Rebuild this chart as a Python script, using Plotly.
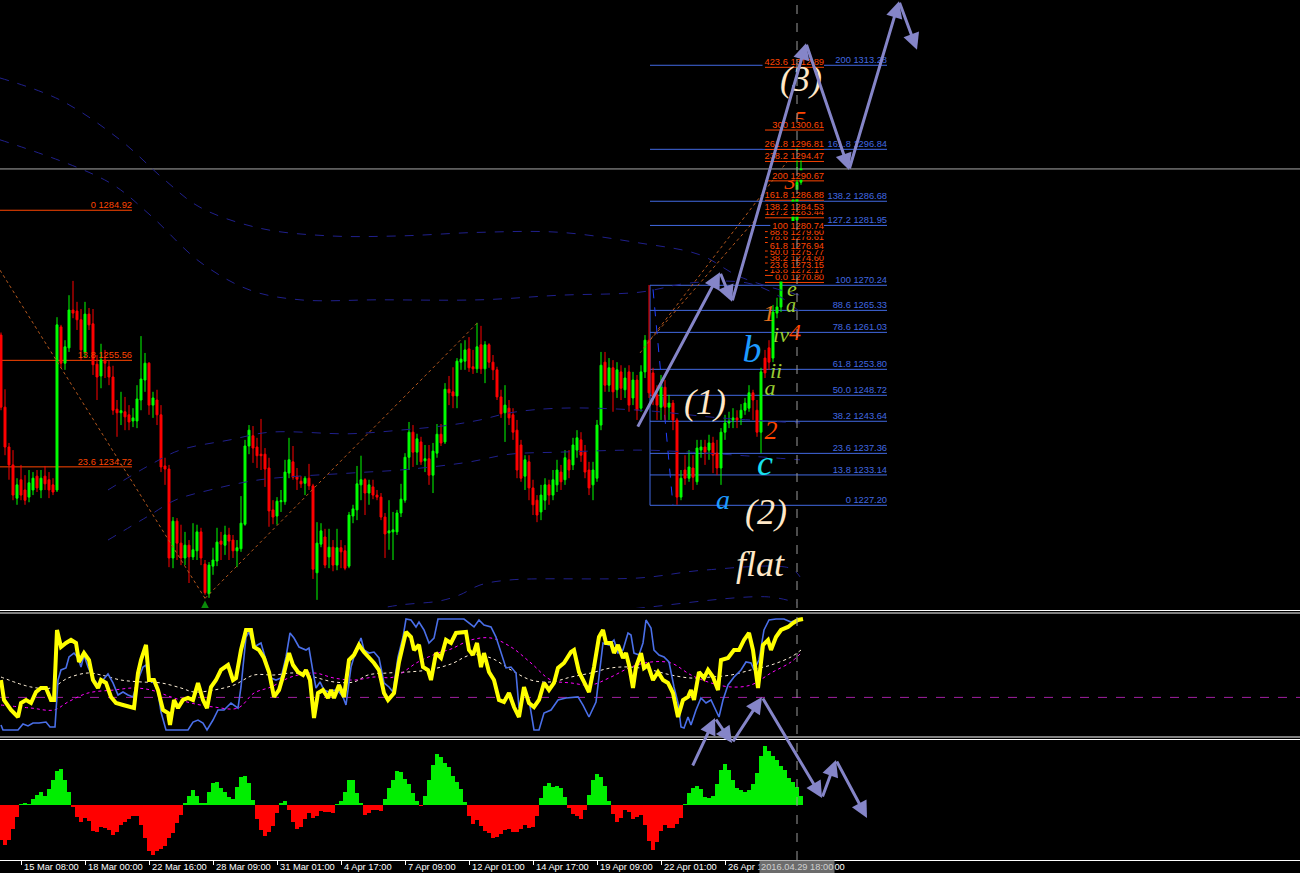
import plotly.graph_objects as go

# ---------------- price data (H4 candles, bar index 0..200) ----------------
opens = [1260.5,1246.4,1238.6,1235.1,1228.6,1232.2,1230.2,1228.8,1230.2,1232.9,
1230.2,1232.9,1232.2,1231.2,1230.2,1262.1,1255.0,1258.0,1265.4,1265.2,
1263.5,1257.2,1264.6,1262.7,1254.8,1252.5,1255.6,1254.3,1252.3,1246.0,
1245.3,1245.5,1244.9,1243.7,1243.7,1247.8,1251.7,1255.0,1246.8,1247.8,
1244.9,1234.9,1234.3,1216.9,1224.1,1219.8,1216.9,1219.4,1217.1,1218.3,
1222.0,1215.7,1209.9,1215.3,1216.3,1220.2,1219.4,1221.4,1220.4,1218.3,
1218.7,1223.5,1238.8,1240.8,1238.6,1237.2,1237.2,1234.5,1226.3,1225.1,
1227.9,1227.9,1233.5,1235.7,1232.9,1231.9,1231.5,1232.5,1231.0,1214.0,
1219.6,1221.0,1217.1,1219.0,1215.5,1218.9,1218.3,1215.3,1225.1,1226.3,
1231.2,1232.2,1229.6,1230.8,1229.2,1228.8,1224.9,1221.8,1222.0,1222.0,
1225.7,1228.2,1236.6,1241.5,1237.6,1239.6,1235.9,1236.3,1233.1,1237.4,
1241.1,1239.6,1249.9,1249.4,1248.6,1255.2,1255.4,1257.8,1254.3,1253.9,
1258.6,1253.9,1258.6,1255.2,1253.7,1248.4,1245.3,1246.2,1244.9,1241.9,
1239.0,1232.9,1235.7,1230.6,1228.2,1225.9,1228.2,1231.2,1229.2,1231.2,
1233.7,1232.2,1236.1,1235.1,1238.0,1240.0,1237.6,1234.1,1231.2,1232.5,
1242.9,1255.2,1250.7,1254.1,1249.8,1253.3,1249.8,1253.3,1248.2,1251.7,
1246.2,1253.3,1259.5,1253.1,1248.8,1246.4,1250.3,1246.4,1247.2,1243.9,
1228.8,1234.1,1232.5,1234.5,1231.8,1238.0,1238.6,1238.0,1239.4,1237.4,
1234.5,1241.5,1243.3,1243.9,1244.3,1244.3,1245.8,1246.2,1249.2,1245.8,
1241.5,1256.0,1258.0,1256.0,1264.8,1266.0,1273.8,1276.2,1275.8,1283.0,
1290.4]
highs = [1261.0,1249.9,1239.4,1238.0,1232.5,1235.1,1233.1,1234.1,1233.7,1234.1,
1234.1,1234.9,1233.7,1232.5,1264.0,1262.5,1259.5,1268.3,1271.1,1267.0,
1265.6,1267.0,1265.8,1265.6,1256.6,1258.8,1257.6,1255.6,1254.5,1247.8,
1249.4,1248.4,1246.8,1246.2,1250.7,1260.3,1257.0,1255.2,1249.4,1249.8,
1246.8,1236.5,1235.1,1224.9,1224.7,1223.4,1222.0,1220.4,1223.7,1223.4,
1222.8,1216.5,1216.1,1218.9,1222.8,1222.0,1223.2,1222.8,1221.4,1220.4,
1229.0,1240.0,1242.9,1242.7,1240.4,1244.1,1238.4,1236.5,1228.2,1228.8,
1230.2,1236.1,1240.4,1238.8,1234.5,1232.9,1232.9,1235.3,1231.4,1223.9,
1223.7,1222.6,1222.6,1220.4,1222.6,1220.4,1219.4,1225.9,1227.3,1234.9,
1236.9,1232.5,1232.2,1232.2,1230.2,1229.6,1225.7,1228.2,1225.9,1226.3,
1231.4,1237.4,1243.5,1242.9,1241.2,1240.6,1239.0,1239.0,1239.4,1243.1,
1243.1,1251.1,1252.5,1254.2,1256.0,1258.9,1259.5,1260.1,1257.6,1262.9,
1262.3,1259.3,1258.9,1256.6,1254.3,1249.8,1250.7,1247.8,1246.2,1243.9,
1240.0,1237.0,1237.0,1232.2,1229.2,1231.2,1232.5,1232.2,1234.1,1236.1,
1235.1,1238.0,1238.0,1240.4,1241.9,1241.5,1239.0,1235.7,1235.7,1243.9,
1257.2,1257.2,1256.0,1255.6,1255.2,1254.6,1254.1,1254.6,1253.3,1252.7,
1254.6,1260.5,1270.3,1254.1,1250.7,1252.7,1251.7,1248.8,1247.8,1244.3,
1234.1,1237.0,1238.0,1237.0,1240.0,1240.0,1240.0,1241.0,1240.6,1240.0,
1242.3,1244.9,1245.5,1246.2,1245.8,1247.0,1248.2,1250.7,1249.8,1247.8,
1254.1,1257.6,1259.5,1266.4,1267.8,1275.6,1276.2,1277.1,1287.9,1297.1,
1295.1]
lows = [1245.8,1237.0,1232.2,1228.2,1227.3,1228.2,1227.3,1227.8,1229.2,1229.8,
1228.6,1230.2,1228.6,1229.2,1229.8,1254.1,1253.7,1257.2,1263.8,1261.5,
1255.6,1256.0,1261.5,1252.7,1247.8,1250.1,1252.1,1250.7,1244.9,1240.6,
1242.9,1241.9,1241.9,1242.5,1242.3,1245.8,1249.4,1244.9,1244.3,1242.9,
1233.7,1231.2,1215.1,1214.9,1216.5,1215.5,1215.5,1212.0,1216.5,1216.5,
1215.5,1209.7,1209.1,1213.6,1215.3,1216.5,1217.5,1216.5,1216.9,1215.1,
1218.1,1223.2,1237.2,1235.5,1234.5,1234.1,1230.8,1223.0,1223.5,1223.4,
1225.9,1227.3,1232.5,1232.2,1230.2,1230.6,1229.2,1230.2,1212.8,1208.7,
1219.0,1214.9,1214.9,1214.3,1214.5,1214.9,1214.5,1214.9,1223.7,1224.3,
1228.2,1225.3,1227.3,1228.4,1228.2,1224.3,1216.9,1218.5,1216.5,1221.4,
1224.9,1227.7,1234.1,1234.7,1235.1,1235.1,1233.7,1231.2,1229.6,1236.5,
1238.8,1239.2,1246.8,1246.2,1246.2,1253.7,1253.7,1253.3,1252.9,1253.1,
1252.9,1251.1,1254.1,1251.7,1247.8,1244.3,1239.6,1242.9,1240.0,1232.5,
1231.8,1230.2,1228.2,1225.3,1223.9,1224.3,1226.3,1227.3,1228.2,1229.8,
1230.2,1231.2,1232.5,1234.1,1236.5,1235.7,1232.5,1229.2,1228.2,1231.8,
1241.9,1249.4,1249.4,1245.5,1248.2,1247.8,1248.2,1245.5,1246.8,1243.9,
1245.5,1252.1,1248.2,1246.8,1243.9,1243.9,1243.9,1243.9,1241.9,1227.3,
1228.2,1231.2,1231.8,1230.2,1231.2,1236.5,1235.1,1236.1,1233.5,1233.1,
1231.2,1240.0,1242.3,1242.3,1242.3,1242.9,1244.9,1245.5,1243.9,1240.6,
1237.4,1252.1,1253.7,1255.2,1263.8,1265.0,1272.3,1273.6,1274.8,1282.0,
1289.9]
closes = [1246.4,1238.6,1235.1,1229.2,1231.2,1229.2,1228.2,1231.6,1232.5,1230.6,
1232.5,1231.4,1230.2,1229.8,1262.5,1255.0,1258.2,1265.4,1264.8,1263.5,
1257.6,1264.6,1262.5,1254.7,1252.3,1255.6,1255.0,1252.3,1245.8,1245.3,
1245.7,1244.5,1243.5,1244.3,1248.0,1251.9,1255.0,1246.8,1248.2,1244.9,
1234.7,1234.3,1216.9,1224.1,1219.8,1216.9,1219.4,1217.1,1218.5,1222.0,
1216.9,1210.1,1215.5,1216.5,1220.0,1219.6,1221.4,1220.2,1218.3,1218.9,
1223.7,1238.8,1241.9,1238.4,1236.9,1236.9,1234.3,1226.1,1224.9,1228.0,
1228.1,1233.7,1236.1,1232.7,1232.3,1231.4,1232.5,1231.0,1214.7,1219.8,
1222.2,1215.5,1219.0,1215.5,1218.9,1218.1,1214.9,1225.3,1226.5,1231.4,
1232.2,1229.6,1231.2,1229.2,1228.8,1224.9,1221.6,1222.2,1222.4,1225.7,
1228.4,1236.6,1241.5,1237.6,1240.2,1235.7,1236.3,1233.1,1237.8,1241.1,
1239.4,1249.9,1249.2,1248.6,1255.4,1255.8,1257.6,1254.1,1253.9,1258.2,
1253.9,1258.6,1255.2,1253.7,1248.4,1245.1,1246.8,1244.3,1241.5,1234.1,
1232.5,1236.1,1230.6,1227.3,1225.3,1229.2,1231.2,1229.2,1232.2,1234.1,
1231.8,1236.5,1234.1,1239.0,1240.4,1237.0,1233.7,1230.6,1234.1,1242.9,
1254.6,1250.7,1254.1,1249.4,1253.7,1250.1,1252.1,1246.8,1251.7,1245.8,
1253.3,1259.5,1249.2,1248.4,1246.8,1250.3,1246.4,1247.2,1243.9,1228.8,
1232.5,1232.5,1234.7,1232.7,1238.4,1238.6,1237.6,1239.4,1237.0,1234.5,
1241.5,1243.3,1243.5,1244.3,1243.9,1245.8,1247.2,1249.2,1247.8,1241.5,
1253.3,1253.1,1255.2,1265.0,1266.0,1273.8,1274.8,1274.8,1286.9,1290.4,
1293.0]
bars = list(range(len(closes)))
bid_price = 1293.0
vline_bar = 199

# ---------------- moving-average envelope curves (bar, price) ----------------
env_t1_x = [-0.25,14.75,29.75,41,49.75,64.75,82.25,99.75,119.75,139.75,159.75,174.75,184.75,199.75]
env_t1_y = [1310.8,1306.5,1298.7,1290.8,1285.5,1281.4,1279.9,1279.9,1280.6,1280.6,1278.5,1276.2,1271.9,1268.3]
env_t2_x = [-0.25,26.75,37.25,49.75,62.25,74.75,94.75,119.75,139.75,159.75,172.25,186.5,194.75,199.75]
env_t2_y = [1298.7,1290.5,1284.0,1274.8,1269.3,1267.4,1267.4,1267.4,1268.3,1268.9,1270.7,1270.7,1268.0,1265.0]
env_a_x = [26.75,37.25,44.75,57.25,67.25,87.25,99.75,112.25,119.75,127.25,139.75,159.75,179.75,199.75]
env_a_y = [1230.2,1235.1,1238.0,1240.0,1241.5,1241.2,1241.9,1242.9,1243.9,1245.3,1246.2,1245.8,1244.3,1243.3]
env_b_x = [26.75,37.25,43.5,52.25,64.75,87.25,99.75,109.75,117.25,127.25,139.75,159.75,172.25,199.75]
env_b_y = [1220.4,1225.3,1228.2,1230.2,1232.2,1233.5,1234.1,1234.9,1235.7,1237.2,1237.6,1238.0,1237.6,1236.1]
env_c1_x = [92.25,99.75,109.75,114.75,119.75,127.25,159.75,175.5,197.25,199.75]
env_c1_y = [1206.7,1207.7,1208.5,1209.7,1211.6,1212.6,1213.0,1214.5,1214.9,1213.2]
env_c2_x = [149.75,159.75,191.5,199.0]
env_c2_y = [1206.3,1207.1,1209.3,1208.1]

# ---------------- dotted trend lines (bar, price) ----------------
trend_lines = [
    ((-0.25, 1273.2), (51, 1209.0)),
    ((51, 1209.0), (119.25, 1263.0)),
    ((159.75, 1257.0), (196.5, 1294.4)),
    ((162.25, 1259.5), (188.5, 1283.0)),
]

# ---------------- Fibonacci levels ----------------
fib_left_lv = ["0", "13.8", "23.6"]
fib_left_px = [1284.92, 1255.56, 1234.72]
fib_blue_lv = ["0", "13.8", "23.6", "38.2", "50.0", "61.8", "78.6", "88.6", "100", "127.2", "138.2", "161.8", "200"]
fib_blue_px = [1227.20, 1233.14, 1237.36, 1243.64, 1248.72, 1253.80, 1261.03, 1265.33, 1270.24, 1281.95, 1286.68, 1296.84, 1313.28]
fib_or_lv = ["0.0", "13.8", "23.6", "38.2", "50.0", "61.8", "78.6", "88.6", "100", "127.2", "138.2", "161.8", "200", "238.2", "261.8", "300", "423.6"]
fib_or_px = [1270.80, 1272.17, 1273.15, 1274.60, 1275.77, 1276.94, 1278.61, 1279.60, 1280.74, 1283.44, 1284.53, 1286.88, 1290.67, 1294.47, 1296.81, 1300.61, 1312.89]

# ---------------- Elliott wave labels (text, bar, price, size, color) ----------------
wave_labels_under = [   # drawn beneath the fib texts
    ("3", 197.25, 1290.2, 22, "#FF4500"),
    ("5", 199.75, 1302.4, 24, "#FF4500"),
]
wave_labels = [
    ("(3)", 200.0, 1310.0, 36, "#FFE8C8"),
    ("(1)", 176.0, 1246.8, 36, "#FFE8C8"),
    ("(2)", 191.25, 1225.3, 36, "#FFE8C8"),
    ("flat", 189.75, 1215.1, 36, "#FFE8C8"),
    ("b", 187.75, 1257.0, 38, "#1E9BFF"),
    ("c", 191.0, 1234.9, 36, "#18E0F0"),
    ("a", 180.5, 1227.9, 28, "#1E9BFF"),
    ("2", 192.5, 1241.4, 26, "#FF4500"),
    ("4", 198.5, 1260.7, 24, "#FF4500"),
    ("1", 192.0, 1264.4, 24, "#E8701E"),
    ("iv", 195.0, 1260.3, 22, "#9ACD32"),
    ("ii", 193.75, 1253.1, 22, "#9ACD32"),
    ("a", 192.25, 1249.9, 22, "#9ACD32"),
    ("a", 197.5, 1266.0, 20, "#9ACD32"),
    ("e", 197.75, 1269.3, 22, "#9ACD32"),
]

# ---------------- projection arrows (bar, price) ----------------
proj_main = [(159, 1242.3), (179.75, 1272.8), (182.75, 1267.0), (201.25, 1317.6),
             (212, 1292.8), (224.5, 1325.8), (229, 1316.3)]

# ---------------- oscillator panel ----------------
yel_x = [0,0.75,2.5,4.25,5,6.25,7.5,8.75,10,11.25,12.5,13.25,14,15,16.25,17.5,18.75,19.5,20.75,22,23,24.25,25,26.25,27.5,28.75,30.5,32,33.25,34.25,35,36.25,37,38.25,39.25,40.5,41.75,42.25,43.25,44.25,45.5,46.75,48,49.25,50.5,51.5,52.5,53.75,55,56.75,58,58.75,60,61.25,62.5,63.25,64.5,65.75,67,68.25,69.5,70.75,72,73,74.25,75.5,76.25,77.25,78.25,79.25,80.5,81.75,82.5,83.25,84.5,85.75,87,88.25,89.5,90.75,92,93.25,94.5,95.75,96.75,98.25,99.5,101.25,102.5,103.25,104.5,105.5,106.75,107.5,108.75,110,111.25,112.5,113.75,116.25,117,118,119,120,120.75,122,123.25,124.5,125.75,127,128.25,129.5,130.75,132,133.25,134.5,135.75,137,138.25,139.25,140.75,142.5,143.25,144.5,145.75,147,148.25,149.5,150.5,151.25,152.5,153.25,154.25,155.5,156.25,157,158,158.75,160,160.75,161.75,163,164.25,165.5,166.75,168,169.25,170.5,171.75,172.5,173.25,174.5,175.75,176.75,178,179.25,180,181.75,183.25,184.5,185.75,187,188,189.25,190.5,191.75,192.5,193.75,195,196.75,198,199.25,200.5]
yel_v = [45.5,27.7,18.8,12.5,25,27.7,25,34.8,38.4,38.4,27.7,27.7,90.2,75,78.6,81.3,78.6,61.6,69.6,63.4,45.5,38.4,45.5,42.9,30.4,25,23.2,21.4,20.5,51.8,63.4,76.8,45.5,45.5,36.6,18.8,16.1,5.4,27.7,20.5,27.7,29.5,27.7,42.9,27.7,20.5,39.3,45.5,54.5,58.9,45.5,47.3,72.3,90.2,90.2,75,72.3,65.2,52.7,30.4,36.6,51.8,69.6,58.9,52.7,50,54.5,45.5,11.6,33.9,36.6,29.5,36.6,29.5,41.1,30.4,63.4,67.9,76.8,70.5,66.1,60.7,54.5,33.9,27.7,33.9,61.6,88.4,83.9,72.3,76.8,57.1,54.5,45.5,69.6,65.2,81.3,78.6,87.5,88.4,72.3,67.9,78.6,57.1,69.6,52.7,45.5,27.7,25.9,33.9,21.4,12.5,39.3,25,21.4,27.7,42.9,36.6,42.9,56.3,60.7,70.5,72.3,52.7,43.8,34.8,57.1,83.9,90.2,78.6,78.6,69.6,76.8,65.2,69.6,58.9,38.4,57.1,69.6,56.3,58.9,45.5,52.7,45.5,42.9,33.9,12.5,27.7,30.4,36.6,27.7,52.7,47.3,54.5,48.2,36.6,63.4,65.2,72.3,72.3,81.3,87.5,72.3,38.4,76.8,81.3,72.3,83.9,90.2,92.9,96.4,99.1,100]
blu_x = [0,0.5,4.25,5.5,6.75,8,9.5,11.25,12.25,13.5,14.25,15,16.25,17,18.25,19.25,20,20.75,21.75,23,24.25,25.5,26.75,28,29.25,30.5,31.75,33,34.25,35.5,36.25,37,38.25,39.25,40,41.25,46.75,48,49.25,50.5,51.5,53,54.25,55.75,57.5,59.25,60,61.25,62,63.25,65,66.25,67.5,68.75,70,71.25,72.25,73.25,74.5,76.25,77,78,78.75,79.75,80.75,82,83.25,84.5,85.5,86.25,87.5,88.75,90,90.75,92,93.25,94.5,95.75,97,98,99.25,100.5,101.25,102.5,103.75,104.5,105.75,107,108.25,109.25,115.75,118.25,119.5,120.75,122.5,123.75,125,126.25,127.5,128.75,129.5,130.75,132,133.25,134.5,135.75,137.5,139.25,141.25,144.25,145.5,147,148.75,150.5,152,153.25,154.25,155.5,156.75,157.5,158.25,159.5,160.5,161.25,162.5,163.25,164.5,165.75,167,168.25,169.25,170,170.75,171.75,172.5,173.75,175,176.25,177.5,178.75,179.5,180.5,181.75,183.25,185,186.25,187.5,188.25,189.5,190.75,192,193.75,195.75,197.5,199.25,200]
blu_v = [5.4,0.9,0.9,6.3,4.5,7.1,7.1,8,3.6,3.6,45.5,54.5,56.3,66.1,69.6,65.2,57.1,67.9,57.1,47.3,41.1,45.5,50.9,42.9,32.1,34.8,32.1,30.4,45.5,57.1,58.9,45.5,42.9,34.8,17,0.9,0.9,8,9.8,7.1,0.9,9.8,18.75,18.75,25,20.5,39.3,83.9,88.4,75,78.6,63.4,47.3,45.5,47.3,66.1,87.5,83,75,72.3,74.1,52.7,38.4,43.8,36.6,34.8,36.6,34.8,30.4,23.2,57.1,72.3,83,72.3,69.6,70.5,65.2,42.9,39.3,34.8,66.1,83.9,100,99.1,92.9,97.3,90.2,78.6,83,100,100,92.9,99.1,94.6,92.9,83.9,69.6,56.3,57.1,51.8,20.5,36.6,27.7,0.9,0.9,16.1,18.75,27.7,29.5,30.4,23.2,12.5,25.9,78.6,76.8,81.3,69.6,72.3,87.5,85.7,69.6,67.9,78.6,99.1,92,72.3,67.9,66.1,61.6,39.3,25,3.6,2.7,12.5,5.4,18.75,29.5,25,27.7,18.75,12.5,27.7,41.1,48.2,54.5,61.6,60.7,54.5,63.4,90.2,99.1,100,100,97.3,100,100]
sig_x = [0,7.5,12.5,16.75,21.75,25,30,35,40,45,48.25,53.25,58.25,63.25,68.25,73.25,78.25,83.25,88.25,91.75,96.75,101.75,106.75,112.5,117.5,122.5,127.5,132.5,137.5,142.5,147.5,152.5,157.5,162.5,167.5,172.5,177.5,182.5,187.5,192.5,197.5,200]
sig_v = [48.2,39.3,38.4,47.3,51.8,50,45.5,43.8,42.9,38.4,34.8,36.6,41.1,50,50,51.8,48.2,43.8,43.8,50,51.8,52.7,54.5,59.8,67.9,65.2,54.5,45.5,43.8,48.2,51.8,56.3,57.1,54.5,50,47.3,48.2,50,54.5,58.9,66.1,72.3]
sig2_x = [0,7.5,13.25,16.75,21.75,28.25,33.25,37.5,42.5,47.5,53.25,59.25,63.25,67.5,72.5,78.25,83.25,88.25,93.25,98.25,104.25,109.25,112.5,117.5,122.5,127.5,132.5,137.5,142.5,147.5,152.5,157.5,162.5,167.5,172.5,177.5,182.5,187.5,192.5,197.5,200]
sig2_v = [23.2,20.5,18.75,25.9,33.9,36.6,38.4,36.6,30.4,25,21.4,20.5,33.9,39.3,48.2,51.8,47.3,45.5,48.2,48.2,61.6,69.6,73.2,81.3,83,75,60.7,45.5,42.9,41.1,48.2,57.1,61.6,60.7,50,42.9,39.3,41.1,51.8,61.6,69.6]
osc_level = 30

# ---------------- histogram panel ----------------
hist_v = [-35,-40,-35,-24,-12,0.8,1.2,0.6,6,10,13,9,16,25,34,36,25,13,-2,-12,
-17,-13,-16,-26,-27,-22,-23,-25,-30,-27,-20,-17,-14,-11,-11,-20,-33,-46,-50,-46,
-44,-41,-33,-28,-18,-10,2,9,15,9,2,2,13,22,23,17,13,8,6,18,
28,29,22,5,-14,-25,-31,-27,-21,-8,2,4,-5,-17,-24,-22,-14,-8,-13,-11,
-6,-7,-7,-8,1,4,13,25,25,12,2,-10,-8,-5,-5,-6,6,17,25,34,
33,26,21,12,4,-1,9,25,40,51,48,42,38,29,23,16,3,-11,-19,-15,
-21,-26,-28,-33,-32,-29,-25,-24,-27,-27,-24,-20,-23,-22,-11,7,19,22,18,19,
17,8,-3,-9,-11,-14,-5,10,25,31,28,19,4,-9,-17,-13,-5,-7,-14,-12,
-10,-20,-36,-45,-37,-26,-20,-23,-23,-19,-13,1,12,17,19,16,8,7,9,21,
35,41,35,25,17,15,13,15,21,32,49,59,54,49,45,39,35,27,23,18,
9]

# ---------------- time axis ----------------
tick_bars = [5, 21, 37, 53, 69, 85, 101, 117, 133, 149, 165, 181, 197]
tick_text = ["15 Mar 08:00", "18 Mar 00:00", "22 Mar 16:00", "28 Mar 09:00", "31 Mar 01:00",
             "4 Apr 17:00", "7 Apr 09:00", "12 Apr 01:00", "14 Apr 17:00", "19 Apr 09:00",
             "22 Apr 01:00", "26 Apr 17:00", "29 Apr 09:00"]
vline_label = "2016.04.29 18:00"

# =====================================================================
W, H = 1300, 873
MAIN_TOP, MAIN_BOT = 0, 608
Y_RANGE = [1207.11, 1326.05]
X_RANGE = [-0.25, 324.75]
PRICE_PER_PX = (Y_RANGE[1] - Y_RANGE[0]) / (MAIN_BOT - MAIN_TOP)
BAR_PER_PX = (X_RANGE[1] - X_RANGE[0]) / W

def py(px):  # pixel row -> paper y
    return 1 - px / H

SANS = "Liberation Sans, Arial, sans-serif"
SERIF = "Liberation Serif, Times New Roman, serif"
LBL_SIZE = 9.3
ORANGE = "#FF4500"
ROYAL = "#4169E1"
NAVY = "#20208C"
DOT = "#B5581E"

def text_w_px(s, size=LBL_SIZE):
    return sum(0.556 if ch.isdigit() else 0.278 for ch in s) * size

fig = go.Figure()

# envelope curves
for xs, ys in [(env_t1_x, env_t1_y), (env_t2_x, env_t2_y), (env_a_x, env_a_y),
               (env_b_x, env_b_y), (env_c1_x, env_c1_y), (env_c2_x, env_c2_y)]:
    fig.add_trace(go.Scatter(x=xs, y=ys, mode="lines", line=dict(color=NAVY, width=1, dash="dash"),
                             line_shape="spline", hoverinfo="skip"))
for (x0, y0), (x1, y1) in trend_lines:
    fig.add_trace(go.Scatter(x=[x0, x1], y=[y0, y1], mode="lines",
                             line=dict(color=DOT, width=1, dash="dot"), hoverinfo="skip"))

shapes = []
for p in fib_left_px:
    shapes.append(dict(type="line", xref="x", yref="y", x0=-0.25, x1=32.75, y0=p, y1=p,
                       line=dict(color=ORANGE, width=1), layer="below"))
for p in fib_blue_px:
    shapes.append(dict(type="line", xref="x", yref="y", x0=162.25, x1=221.5, y0=p, y1=p,
                       line=dict(color=ROYAL, width=1), layer="below"))
for p in fib_or_px:
    shapes.append(dict(type="line", xref="x", yref="y", x0=191.0, x1=205.75, y0=p, y1=p,
                       line=dict(color=ORANGE, width=1), layer="below"))
shapes.append(dict(type="line", xref="x", yref="y", x0=162.25, x1=162.25, y0=fib_blue_px[0], y1=fib_blue_px[8],
                   line=dict(color=ROYAL, width=1), layer="below"))
shapes.append(dict(type="line", xref="x", yref="y", x0=163.0, x1=168.0, y0=fib_blue_px[8] - 0.8, y1=fib_blue_px[0],
                   line=dict(color="#2040FF", width=1, dash="dash"), layer="below"))
shapes.append(dict(type="line", xref="paper", yref="y", x0=0, x1=1, y0=bid_price, y1=bid_price,
                   line=dict(color="#A8A8A8", width=1), layer="below"))

# wave labels hidden partly behind the fib captions
for t, bx, pr, sz, col in wave_labels_under:
    fig.add_trace(go.Scatter(x=[bx], y=[pr], mode="text", text=[f"<i>{t}</i>"],
                             textposition="middle center",
                             textfont=dict(family=SERIF, size=sz, color=col), hoverinfo="skip"))

# fib captions
fig.add_trace(go.Scatter(x=[32.75] * len(fib_left_px), y=fib_left_px, mode="text",
                         text=[f"{a} {b:.2f}" for a, b in zip(fib_left_lv, fib_left_px)],
                         textposition="top left", textfont=dict(family=SANS, size=LBL_SIZE, color=ORANGE),
                         hoverinfo="skip"))
fig.add_trace(go.Scatter(x=[221.5] * len(fib_blue_px), y=fib_blue_px, mode="text",
                         text=[f"{a} {b:.2f}" for a, b in zip(fib_blue_lv, fib_blue_px)],
                         textposition="top left", textfont=dict(family=SANS, size=LBL_SIZE, color=ROYAL),
                         hoverinfo="skip"))
OR_RIGHT = 205.75
for lv, p in zip(fib_or_lv, fib_or_px):
    s = f"{lv} {p:.2f}"
    wb = (text_w_px(s) + 2) * BAR_PER_PX
    y0 = p + 1 * PRICE_PER_PX
    y1 = p + 10.5 * PRICE_PER_PX
    fig.add_trace(go.Scatter(x=[OR_RIGHT - wb, OR_RIGHT, OR_RIGHT, OR_RIGHT - wb, OR_RIGHT - wb],
                             y=[y0, y0, y1, y1, y0], mode="lines", fill="toself",
                             fillcolor="#000000", line=dict(width=0, color="#000000"), hoverinfo="skip"))
    fig.add_trace(go.Scatter(x=[OR_RIGHT], y=[p], mode="text", text=[s], textposition="top left",
                             textfont=dict(family=SANS, size=LBL_SIZE, color=ORANGE), hoverinfo="skip"))

# candles
fig.add_trace(go.Candlestick(x=bars, open=opens, high=highs, low=lows, close=closes,
                             increasing=dict(line=dict(color="#00FF00", width=1), fillcolor="#00FF00"),
                             decreasing=dict(line=dict(color="#FF0000", width=1), fillcolor="#FF0000"),
                             whiskerwidth=0, hoverinfo="skip"))

fig.add_trace(go.Scatter(x=[51], y=[1208.6], mode="markers",
                         marker=dict(symbol="arrow-up", size=16, color="#0A8A0A", line=dict(width=0)),
                         hoverinfo="skip"))

for t, bx, pr, sz, col in wave_labels:
    fig.add_trace(go.Scatter(x=[bx], y=[pr], mode="text", text=[f"<i>{t}</i>"],
                             textposition="middle center",
                             textfont=dict(family=SERIF, size=sz, color=col), hoverinfo="skip"))

# oscillator
fig.add_trace(go.Scatter(x=sig_x, y=sig_v, yaxis="y2", mode="lines", line_shape="spline",
                         line=dict(color="#FFF0D8", width=1, dash="dot"), hoverinfo="skip"))
fig.add_trace(go.Scatter(x=sig2_x, y=sig2_v, yaxis="y2", mode="lines", line_shape="spline",
                         line=dict(color="#FF00FF", width=1, dash="dot"), hoverinfo="skip"))
fig.add_trace(go.Scatter(x=blu_x, y=blu_v, yaxis="y2", mode="lines",
                         line=dict(color="#4A6FE8", width=1.6), hoverinfo="skip"))
fig.add_trace(go.Scatter(x=yel_x, y=yel_v, yaxis="y2", mode="lines",
                         line=dict(color="#FFFF00", width=4), hoverinfo="skip"))
shapes.append(dict(type="line", xref="paper", yref="y2", x0=0, x1=1, y0=osc_level, y1=osc_level,
                   line=dict(color="#A020A0", width=1, dash="dash"), layer="below"))

# histogram
fig.add_trace(go.Bar(x=bars, y=hist_v, yaxis="y3", width=0.8,
                     marker=dict(color=["#00EE00" if v > 0 else "#FF0000" for v in hist_v], line=dict(width=0)),
                     hoverinfo="skip"))

for px in [610.5, 613.0, 737.0, 739.5]:
    shapes.append(dict(type="line", xref="paper", yref="paper", x0=0, x1=1, y0=py(px), y1=py(px),
                       line=dict(color="#FFFFFF", width=1)))
shapes.append(dict(type="line", xref="x", yref="paper", x0=vline_bar, x1=vline_bar, y0=py(860), y1=1,
                   line=dict(color="#9A9A9A", width=1, dash="dash")))

annotations = []
for (x0, y0), (x1, y1) in zip(proj_main[:-1], proj_main[1:]):
    annotations.append(dict(x=x1, y=y1, ax=x0, ay=y0, xref="x", yref="y", axref="x", ayref="y",
                            showarrow=True, arrowhead=2, arrowsize=1.1, arrowwidth=3,
                            arrowcolor="#8585C8", text=""))
proj_low = [(692, 767), (715, 718), (732, 743), (762, 697), (822, 798), (836, 760), (867, 818)]
for (x0, y0), (x1, y1) in zip(proj_low[:-1], proj_low[1:]):
    annotations.append(dict(x=x1 / W, y=py(y1), xref="paper", yref="paper",
                            ax=x0 - x1, ay=y0 - y1, axref="pixel", ayref="pixel",
                            showarrow=True, arrowhead=2, arrowsize=1.1, arrowwidth=3,
                            arrowcolor="#8585C8", text=""))
for b, t in zip(tick_bars, tick_text):
    annotations.append(dict(x=b, y=0, xref="x", yref="paper", xanchor="left", yanchor="bottom",
                            xshift=1, yshift=-1, text=t, showarrow=False,
                            font=dict(family=SANS, size=LBL_SIZE, color="#FFFFFF")))
annotations.append(dict(x=vline_bar, y=0, xref="x", yref="paper", xanchor="center", yanchor="bottom",
                        yshift=-1, text=vline_label, showarrow=False, bgcolor="#6C6C6C",
                        font=dict(family=SANS, size=LBL_SIZE, color="#D0D0D0"), borderpad=1))

fig.update_layout(
    width=W, height=H, margin=dict(l=0, r=0, t=0, b=0),
    paper_bgcolor="#000000", plot_bgcolor="#000000", showlegend=False,
    hovermode=False, bargap=0, shapes=shapes, annotations=annotations,
    xaxis=dict(domain=[0, 1], range=X_RANGE, anchor="y3", showgrid=False, zeroline=False,
               showline=True, linecolor="#FFFFFF", linewidth=1, ticks="outside", ticklen=4,
               tickcolor="#FFFFFF", tickvals=tick_bars, showticklabels=False,
               rangeslider=dict(visible=False), fixedrange=True),
    yaxis=dict(domain=[py(MAIN_BOT), py(MAIN_TOP)], range=Y_RANGE, showgrid=False, zeroline=False,
               showticklabels=False, fixedrange=True),
    yaxis2=dict(domain=[py(736), py(614)], range=[-4.46, 104.46], showgrid=False, zeroline=False,
                showticklabels=False, fixedrange=True),
    yaxis3=dict(domain=[py(860), py(741)], range=[-55, 64], showgrid=False, zeroline=False,
                showticklabels=False, fixedrange=True),
)
fig.write_html("out.html", config={"displayModeBar": False},
               post_script="document.body.style.margin='0px';document.body.style.background='#000';")
